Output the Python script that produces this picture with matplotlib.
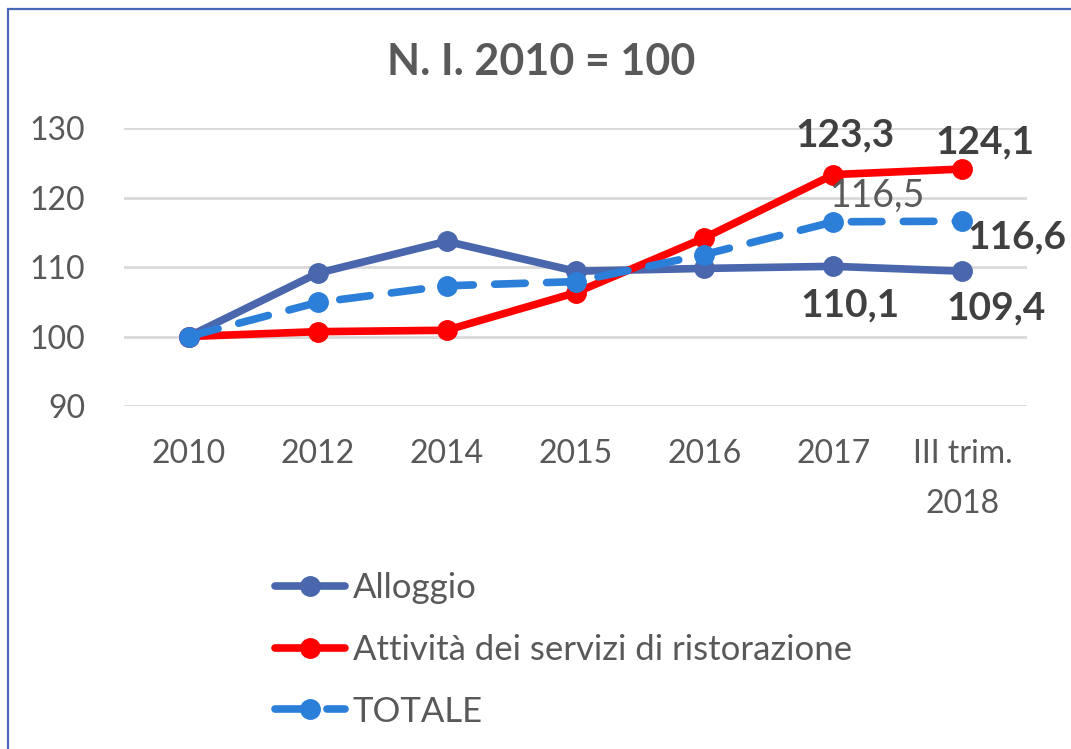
import matplotlib
matplotlib.use("Agg")
import matplotlib.pyplot as plt
from matplotlib.lines import Line2D
from matplotlib.patches import Rectangle

plt.rcParams['font.family'] = ['Lato', 'DejaVu Sans']

# Numeri indice, base 2010 = 100
periodi = ["2010", "2012", "2014", "2015", "2016", "2017", "III trim.\n2018"]
alloggio = [100, 109.1, 113.7, 109.4, 109.8, 110.1, 109.4]
ristorazione = [100, 100.7, 100.9, 106.3, 114.2, 123.3, 124.1]
totale = [100, 104.9, 107.3, 107.9, 111.8, 116.5, 116.6]

col_all = "#4A67AE"
col_rist = "#FF0000"
col_tot = "#2B7FD9"
grigio = "#595959"
scuro = "#404040"

fig = plt.figure(figsize=(10.71, 7.49), dpi=100)
ax = fig.add_axes([0.1158, 0.4579, 0.8431, 0.3712])

x = list(range(len(periodi)))
ax.plot(x, alloggio, color=col_all, lw=5.5, marker="o", ms=14,
        solid_capstyle="round", zorder=3)
ax.plot(x, ristorazione, color=col_rist, lw=5.5, marker="o", ms=14,
        solid_capstyle="round", zorder=4)
ax.plot(x, totale, color=col_tot, lw=5.5, marker="o", ms=14,
        linestyle=(0, (4, 2.8)), dash_capstyle="round", zorder=5)

ax.set_xlim(-0.5, len(periodi) - 0.5)
ax.set_ylim(90, 130)
ax.set_yticks([90, 100, 110, 120, 130])
ax.set_xticks(x)
ax.set_xticklabels(periodi, linespacing=1.8)
ax.tick_params(axis="both", length=0, labelsize=23, colors=grigio)
ax.tick_params(axis="y", pad=28)
ax.tick_params(axis="x", pad=24)
ax.grid(axis="y", color="#D9D9D9", lw=2)
ax.set_axisbelow(True)
for s in ax.spines.values():
    s.set_visible(False)

# etichette dei valori sugli ultimi due periodi
def etichetta(i, serie, dx, dy, bold=True):
    ax.annotate(f"{serie[i]:.1f}".replace(".", ","), (i, serie[i]),
                xytext=(dx, dy), textcoords="offset points",
                ha="center", va="center", fontsize=28 if bold else 27,
                fontweight="bold" if bold else "normal",
                color=scuro if bold else grigio, zorder=6)

etichetta(5, ristorazione, 8.6, 28.8)
etichetta(6, ristorazione, 15.8, 19.4)
etichetta(5, totale, 31.7, 18.7, bold=False)
etichetta(6, totale, 38.9, -11.5)
etichetta(5, alloggio, 12.2, -28.1)
etichetta(6, alloggio, 24.5, -26.6)

fig.text(0.505, 0.917, "N. I. 2010 = 100", ha="center", va="center",
         fontsize=31, fontweight="bold", color=grigio)

handles = [
    Line2D([], [], color=col_all, lw=5.5, marker="o", ms=14, solid_capstyle="round"),
    Line2D([], [], color=col_rist, lw=5.5, marker="o", ms=14, solid_capstyle="round"),
    Line2D([], [], color=col_tot, lw=5.5, marker="o", ms=14,
           linestyle=(0, (4, 2.8)), dash_capstyle="round"),
]
labels = ["Alloggio", "Attività dei servizi di ristorazione", "TOTALE"]
leg = fig.legend(handles, labels, loc="upper left", bbox_to_anchor=(0.244, 0.255),
                 frameon=False, fontsize=25, handlelength=2.0, handletextpad=0.23,
                 labelspacing=0.86, borderaxespad=0)
for t in leg.get_texts():
    t.set_color(grigio)

# bordo del riquadro
fig.patches.append(Rectangle((8 / 1071, -0.05), 1.2, 1 - 9 / 749 + 0.05,
                             transform=fig.transFigure, fill=False,
                             edgecolor="#4A67B8", lw=1.6))

fig.savefig("out.png", dpi=100)
